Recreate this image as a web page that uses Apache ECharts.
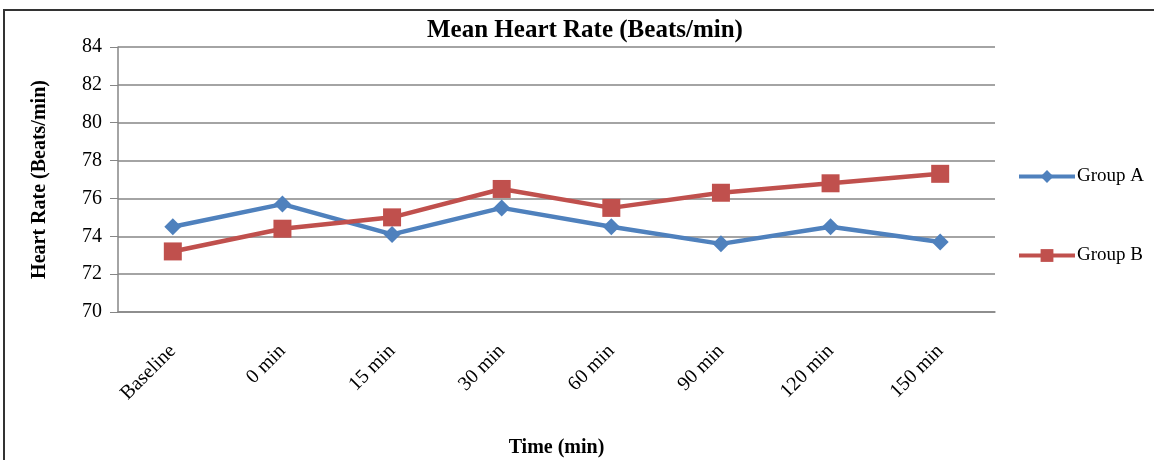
<!DOCTYPE html>
<html><head><meta charset="utf-8">
<script src="https://cdn.jsdelivr.net/npm/echarts@6/dist/echarts.min.js"></script>
<style>html,body{margin:0;padding:0;background:#fff}#c{width:1154px;height:460px}</style>
</head><body><div id="c"></div>
<script>
const categories = ['Baseline','0 min','15 min','30 min','60 min','90 min','120 min','150 min'];
const groupA = [74.5, 75.7, 74.1, 75.5, 74.5, 73.6, 74.5, 73.7];
const groupB = [73.2, 74.4, 75.0, 76.5, 75.5, 76.3, 76.8, 77.3];
const seriesNames = ['Group A','Group B'];
const FONT = '"Liberation Serif", "Times New Roman", serif';
const chart = echarts.init(document.getElementById('c'));
chart.setOption({
  animation: false,
  textStyle: {fontFamily: FONT},
  title: {text: 'Mean Heart Rate (Beats/min)', left: 422, top: 13,
    textStyle: {fontFamily: FONT, fontSize: 25, fontWeight: 'bold', color: '#000'}},
  graphic: [{type: 'rect', shape: {x: 4, y: 10, width: 1300, height: 600},
    style: {fill: 'none', stroke: '#333', lineWidth: 2}, silent: true}],
  legend: {orient: 'vertical', left: 1012, top: 162, itemGap: 60, itemWidth: 56, itemHeight: 16,
    data: seriesNames, lineStyle: {width: 4},
    textStyle: {fontFamily: FONT, fontSize: 19, color: '#000', padding: [0,0,0,-3]}},
  grid: {left: 118, right: 159, top: 47, bottom: 148, outerBoundsMode: 'none', containLabel: false},
  xAxis: {type: 'category', data: categories, boundaryGap: true,
    name: 'Time (min)', nameLocation: 'middle', nameGap: 126,
    nameTextStyle: {fontFamily: FONT, fontSize: 20, fontWeight: 'bold', color: '#000'},
    axisLine: {lineStyle: {color: '#868686', width: 1.5}},
    axisTick: {show: false},
    axisLabel: {rotate: 45, fontFamily: FONT, fontSize: 20, color: '#000', margin: 36}},
  yAxis: {type: 'value', min: 70, max: 84, interval: 2,
    name: 'Heart Rate (Beats/min)', nameLocation: 'middle', nameGap: 68,
    nameTextStyle: {fontFamily: FONT, fontSize: 20, fontWeight: 'bold', color: '#000'},
    axisLine: {show: true, lineStyle: {color: '#868686', width: 1.5}},
    axisTick: {show: true, length: 8, lineStyle: {color: '#868686'}},
    splitLine: {lineStyle: {color: '#868686', width: 1.5}},
    axisLabel: {fontFamily: FONT, fontSize: 20, color: '#000', margin: 16}},
  series: [
    {name: seriesNames[0], type: 'line', data: groupA, symbol: 'diamond', symbolSize: 17,
      lineStyle: {color: '#4F81BD', width: 4.5}, itemStyle: {color: '#4F81BD'}},
    {name: seriesNames[1], type: 'line', data: groupB, symbol: 'rect', symbolSize: 18,
      lineStyle: {color: '#C0504D', width: 4.5}, itemStyle: {color: '#C0504D'}}
  ]
});
</script></body></html>
